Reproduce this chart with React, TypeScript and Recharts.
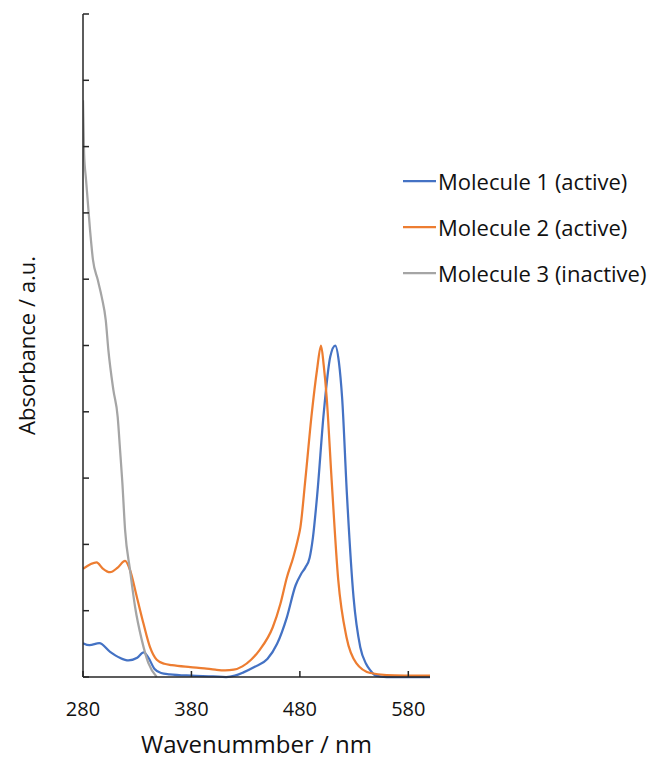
import { LineChart, Line, XAxis, YAxis, Legend } from 'recharts';

// UV-Vis spectra, wavelength (nm) vs absorbance (a.u.)
const molecule1Nm = [280, 286, 295, 305, 314, 322, 330, 336, 340, 346, 352, 360, 380, 400, 412, 420, 428, 438, 450, 459, 468, 476, 481, 485, 489, 492, 496, 502, 508, 512.6, 516, 519, 523.4, 529.5, 535.7, 541, 545, 550, 560, 600];
const molecule1Abs = [0.51, 0.48, 0.51, 0.38, 0.29, 0.25, 0.29, 0.37, 0.3, 0.12, 0.06, 0.04, 0.02, 0.01, 0, 0.02, 0.07, 0.15, 0.27, 0.5, 0.9, 1.38, 1.55, 1.65, 1.8, 2.1, 2.75, 3.98, 4.83, 5.0, 4.75, 4.2, 2.75, 1.2, 0.45, 0.2, 0.1, 0.02, 0, 0];

const molecule2Nm = [280, 292.6, 298, 305, 312, 318.8, 323.4, 329.6, 335.7, 341.8, 348, 355, 362, 379, 392, 402, 411, 419, 427, 435, 443, 455, 462, 468, 474, 478.5, 480.4, 485, 491, 495.8, 499.5, 502, 504.7, 509.3, 515.4, 523, 532, 545, 560, 600];
const molecule2Abs = [1.63, 1.73, 1.64, 1.58, 1.65, 1.75, 1.61, 1.21, 0.81, 0.45, 0.26, 0.2, 0.18, 0.15, 0.13, 0.11, 0.1, 0.11, 0.16, 0.26, 0.41, 0.75, 1.1, 1.5, 1.81, 2.1, 2.25, 2.97, 3.98, 4.63, 5.0, 4.7, 4.22, 2.97, 1.46, 0.6, 0.21, 0.06, 0.03, 0.02];

const molecule3Nm = [280, 281, 282.8, 286.5, 289.2, 293.6, 297.3, 301, 303.4, 308, 312, 314.2, 316.3, 318.8, 323.4, 328, 334.2, 340.3, 348];
const molecule3Abs = [8.7, 7.9, 7.5, 6.74, 6.29, 5.99, 5.73, 5.38, 4.93, 4.33, 3.92, 3.42, 2.93, 2.22, 1.61, 1.06, 0.56, 0.21, 0];

const seriesNames = ['Molecule 1 (active)', 'Molecule 2 (active)', 'Molecule 3 (inactive)'];
const seriesColors = ['#4472C4', '#ED7D31', '#A5A5A5'];

const xTicks = [280, 380, 480, 580];
const yTicks = [0, 1, 2, 3, 4, 5, 6, 7, 8, 9, 10];

const toPoints = (nm: number[], abs: number[]) => nm.map((x, i) => ({ nm: x, abs: abs[i] }));

const series = [
  toPoints(molecule1Nm, molecule1Abs),
  toPoints(molecule2Nm, molecule2Abs),
  toPoints(molecule3Nm, molecule3Abs),
];

const FONT = '"Open Sans", sans-serif';
const AXIS = '#262626';

const renderLegend = (props: any) => (
  <div style={{ fontFamily: FONT, fontSize: 22, color: '#111' }}>
    {props.payload.map((p: any) => (
      <div key={p.value} style={{ display: 'flex', alignItems: 'center', height: 46 }}>
        <svg width={33} height={4} style={{ display: 'block' }}>
          <line x1={0} y1={2} x2={33} y2={2} stroke={p.color} strokeWidth={2.25} />
        </svg>
        <span style={{ marginLeft: 2, whiteSpace: 'nowrap' }}>{p.value}</span>
      </div>
    ))}
  </div>
);

export default function App() {
  return (
    <div style={{ position: 'absolute', left: 0, top: 0, width: 656, height: 760, background: '#fff' }}>
      <LineChart width={656} height={760} margin={{ top: 14, right: 226, bottom: 0, left: 0 }}>
        <XAxis
          dataKey="nm"
          type="number"
          domain={[280, 600]}
          ticks={xTicks}
          allowDataOverflow
          height={83}
          tickSize={-6}
          tickMargin={31}
          stroke={AXIS}
          strokeWidth={1.5}
          tick={{ fontSize: 20, fill: '#111', fontFamily: FONT }}
          label={{
            value: 'Wavenummber / nm',
            position: 'insideBottom',
            offset: 7,
            fontSize: 24,
            fill: '#111',
            fontFamily: FONT,
          }}
        />
        <YAxis
          type="number"
          domain={[0, 10]}
          ticks={yTicks}
          width={83}
          tickSize={-6}
          stroke={AXIS}
          strokeWidth={1.5}
          tickFormatter={() => ''}
          label={{
            value: 'Absorbance / a.u.',
            angle: -90,
            position: 'center',
            dx: -14,
            fontSize: 22,
            fill: '#111',
            fontFamily: FONT,
          }}
        />
        <Legend
          layout="vertical"
          align="center"
          verticalAlign="middle"
          content={renderLegend}
          wrapperStyle={{ left: 403, top: 158, width: 'auto', height: 'auto' }}
        />
        {series.map((d, i) => (
          <Line
            key={seriesNames[i]}
            data={d}
            dataKey="abs"
            name={seriesNames[i]}
            type="monotone"
            stroke={seriesColors[i]}
            strokeWidth={2.25}
            dot={false}
            activeDot={false}
            isAnimationActive={false}
          />
        ))}
      </LineChart>
    </div>
  );
}
